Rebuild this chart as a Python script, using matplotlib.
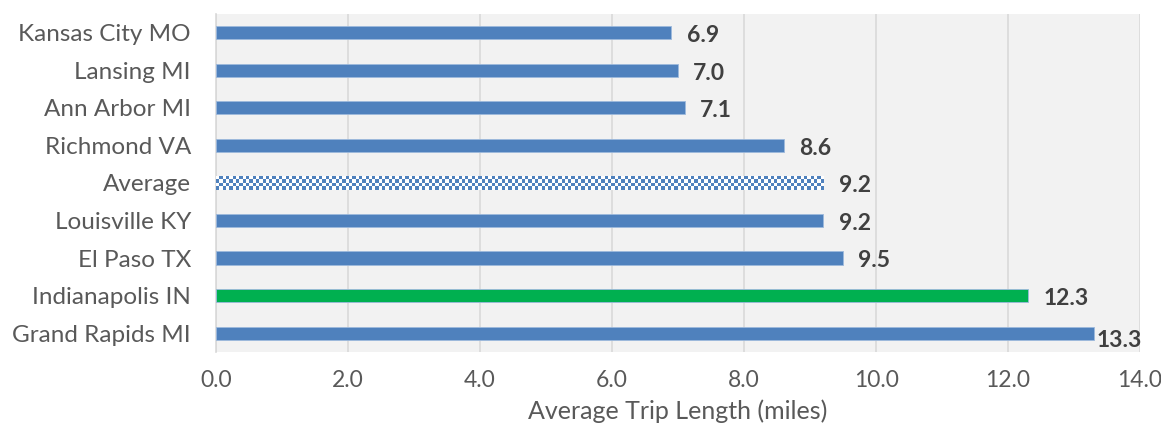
import matplotlib.pyplot as plt
import numpy as np
from matplotlib.colors import ListedColormap

plt.rcParams['font.family'] = ['Lato', 'DejaVu Sans']

cities = ['Grand Rapids MI', 'Indianapolis IN', 'El Paso TX', 'Louisville KY',
          'Average', 'Richmond VA', 'Ann Arbor MI', 'Lansing MI', 'Kansas City MO']
trip_length = [13.3, 12.3, 9.5, 9.2, 9.2, 8.6, 7.1, 7.0, 6.9]
ticks = [0, 2, 4, 6, 8, 10, 12, 14]

blue = '#4f81bd'
green = '#00b050'
colors = [green if c == 'Indianapolis IN' else blue for c in cities]

fig = plt.figure(figsize=(11.61, 4.26), dpi=100)
ax = fig.add_axes([0.186, 0.174, 0.796, 0.793])
ax.set_facecolor('#f2f2f2')

bar_h = 0.35
y = np.arange(len(cities))
bars = ax.barh(y, trip_length, height=bar_h, color=colors, edgecolor='#9db9dc',
               linewidth=0.6, zorder=3)

# checkered fill for the average bar
avg = cities.index('Average')
avg_bar = bars[avg]
avg_bar.set_facecolor('white')
avg_bar.set_edgecolor('none')
ncols = int(trip_length[avg] / 0.05)
checker = np.indices((4, ncols)).sum(axis=0) % 2
img = ax.imshow(checker, cmap=ListedColormap(['white', blue]), aspect='auto',
                interpolation='nearest', zorder=4,
                extent=[0, trip_length[avg], avg - bar_h / 2, avg + bar_h / 2])
img.set_clip_path(avg_bar)

ax.set_xlim(0, 14)
ax.set_ylim(-0.5, len(cities) - 0.5)
ax.set_xticks(ticks)
ax.set_xticklabels([f'{t:.1f}' for t in ticks])
ax.set_yticks(y)
ax.set_yticklabels(cities)
ax.grid(axis='x', color='#d9d9d9', linewidth=1.2, zorder=0)
ax.tick_params(length=0, labelsize=17.5, labelcolor='#595959')
ax.tick_params(axis='x', labelsize=16.5, pad=13)
ax.tick_params(axis='y', pad=18)
for side in ['top', 'right', 'bottom']:
    ax.spines[side].set_visible(False)
ax.spines['left'].set_color('#d9d9d9')
ax.spines['left'].set_linewidth(1.2)

ax.set_xlabel('Average Trip Length (miles)', fontsize=18, color='#595959', labelpad=6)

for i, v in enumerate(trip_length):
    if v > 13:
        off = (2, -5)
    else:
        off = (11, -2)
    ax.annotate(f'{v:.1f}', xy=(v, i), xytext=off, textcoords='offset points',
                ha='left', va='center', fontsize=16.5, fontweight='bold',
                color='#404040', zorder=5)

fig.savefig('out.png', dpi=100)
